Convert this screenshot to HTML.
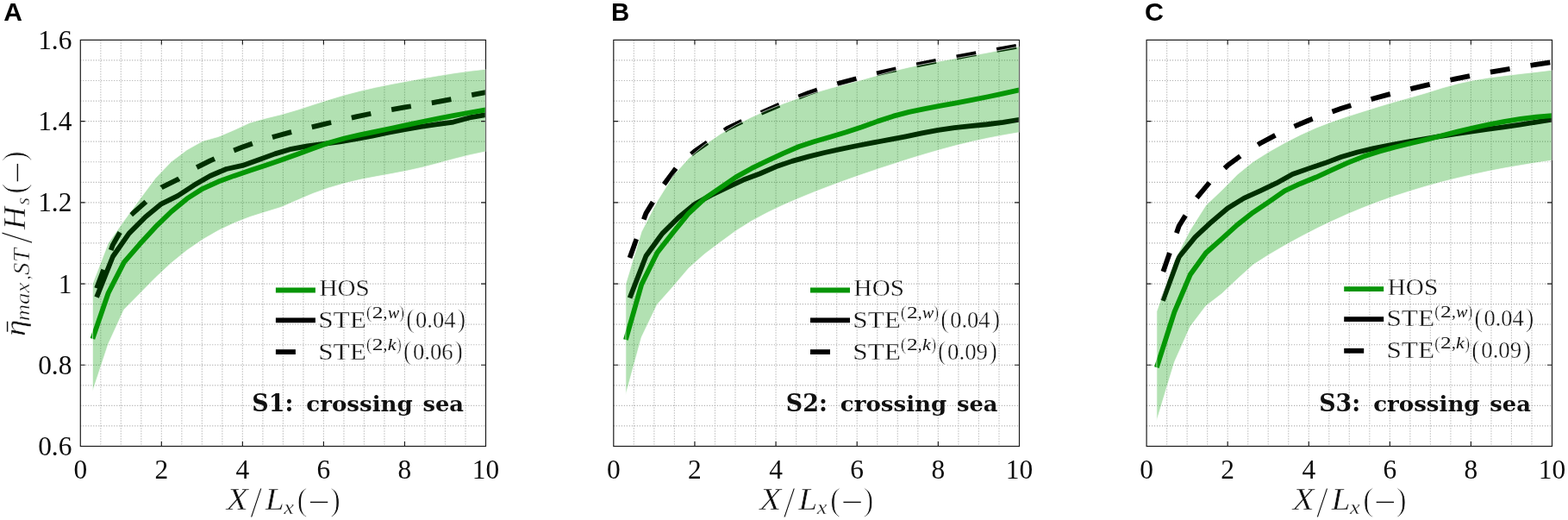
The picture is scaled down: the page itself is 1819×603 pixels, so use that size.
<!DOCTYPE html>
<html lang="en"><head><meta charset="utf-8"><title>Figure</title><style>
html,body{margin:0;padding:0;background:#fff}
body{width:1819px;height:603px;overflow:hidden}
svg{display:block}
.tk{font-family:"Liberation Serif",serif;font-size:31.4px;fill:#0c0c0c}
</style></head>
<body>
<svg width="1819" height="603" viewBox="0 0 1819 603">
<rect width="1819" height="603" fill="#fff"/>
<g>
<path d="M116.81 46.4V517.5M140.32 46.4V517.5M163.83 46.4V517.5M187.34 46.4V517.5M210.85 46.4V517.5M234.36 46.4V517.5M257.87 46.4V517.5M281.38 46.4V517.5M304.89 46.4V517.5M328.4 46.4V517.5M351.91 46.4V517.5M375.42 46.4V517.5M398.93 46.4V517.5M422.44 46.4V517.5M445.95 46.4V517.5M469.46 46.4V517.5M492.97 46.4V517.5M516.48 46.4V517.5M539.99 46.4V517.5M93.3 493.95H563.5M93.3 470.39H563.5M93.3 446.84H563.5M93.3 423.28H563.5M93.3 399.73H563.5M93.3 376.17H563.5M93.3 352.62H563.5M93.3 329.06H563.5M93.3 305.5H563.5M93.3 281.95H563.5M93.3 258.4H563.5M93.3 234.84H563.5M93.3 211.29H563.5M93.3 187.73H563.5M93.3 164.18H563.5M93.3 140.62H563.5M93.3 117.06H563.5M93.3 93.51H563.5M93.3 69.96H563.5" fill="none" stroke="#a6a6a6" stroke-width="1.2" stroke-dasharray="1 2"/>
<clipPath id="clip0"><rect x="93.3" y="46.4" width="470.2" height="471.1"/></clipPath>
<g clip-path="url(#clip0)">
<polyline points="112.11,334.24 130.92,283.83 149.72,251.33 168.53,234.6 187.34,217.32 206.15,208.22 224.96,195.74 243.76,186.32 262.57,177.93 281.38,170.49 300.19,163.94 319,158.19 337.8,153.15 356.61,148.53 375.42,144.06 394.23,139.72 413.04,135.44 431.84,131.43 450.65,127.76 469.46,124.46 488.27,121.4 507.08,118.2 525.88,114.62 544.69,110.52 563.5,107.12" fill="none" stroke="#000" stroke-width="5.8" stroke-dasharray="23 24.3" stroke-dashoffset="0" stroke-linejoin="round"/>
<polyline points="112.11,344.61 130.92,297.5 149.72,270.64 168.53,251.8 187.34,236.35 206.15,227.07 224.96,214.82 243.76,203.98 262.57,195.97 281.38,191.92 300.19,185.28 319,178.4 337.8,172.84 356.61,169.31 375.42,166.81 394.23,164.36 413.04,161.21 431.84,157.53 450.65,153.72 469.46,150.14 488.27,146.93 507.08,144.15 525.88,141.56 544.69,136.43 563.5,133.04" fill="none" stroke="#000" stroke-width="5.8" stroke-linejoin="round"/>
<polyline points="107.41,392.89 125.65,339.71 143.89,304.14 162.14,283.08 180.38,263.2 198.62,245.49 216.87,230.41 235.11,218.82 253.36,210.53 271.6,203.89 289.84,197.81 308.09,191.69 326.33,185.42 344.57,178.92 362.82,172.18 381.06,165.78 399.31,160.5 417.55,156.45 435.79,152.63 454.04,148.72 472.28,144.81 490.52,141 508.77,137.32 527.01,133.79 545.26,130.49 563.5,127.43" fill="none" stroke="#089508" stroke-width="5.8" stroke-linejoin="round"/>
<polygon points="107.41,329.06 125.65,281.67 143.89,255.9 162.14,230.93 180.38,206.43 198.62,187.49 216.87,173.79 235.11,163.56 253.36,158.47 271.6,150.7 289.84,142.27 308.09,137.18 326.33,132.75 344.57,127.43 362.82,121.54 381.06,115.65 399.31,110.19 417.55,105.43 435.79,101.28 454.04,97.61 472.28,94.17 490.52,90.87 508.77,87.72 527.01,84.79 545.26,82.3 563.5,80.22 563.5,175.86 545.26,179.63 527.01,184.2 508.77,189.14 490.52,193.95 472.28,198.05 454.04,201.53 435.79,204.83 417.55,208.36 399.31,212.7 381.06,217.97 362.82,224.48 344.57,232.3 326.33,240.21 308.09,245.86 289.84,251.56 271.6,258.63 253.36,267.3 235.11,277.76 216.87,290.29 198.62,305.03 180.38,322.04 162.14,340.55 143.89,358.97 125.65,398.74 107.41,453.9" fill="#009a00" fill-opacity="0.3"/>
<polygon points="107.41,329.06 125.65,281.67 143.89,255.9 162.14,230.93 180.38,206.43 198.62,187.49 216.87,173.79 235.11,163.56 253.36,158.47 271.6,150.7 289.84,142.27 308.09,137.18 326.33,132.75 344.57,127.43 362.82,121.54 381.06,115.65 399.31,110.19 417.55,105.43 435.79,101.28 454.04,97.61 472.28,94.17 490.52,90.87 508.77,87.72 527.01,84.79 545.26,82.3 563.5,80.22 563.5,175.86 545.26,179.63 527.01,184.2 508.77,189.14 490.52,193.95 472.28,198.05 454.04,201.53 435.79,204.83 417.55,208.36 399.31,212.7 381.06,217.97 362.82,224.48 344.57,232.3 326.33,240.21 308.09,245.86 289.84,251.56 271.6,258.63 253.36,267.3 235.11,277.76 216.87,290.29 198.62,305.03 180.38,322.04 162.14,340.55 143.89,358.97 125.65,398.74 107.41,453.9" fill="none" stroke="#fff" stroke-width="0.8" stroke-opacity="0.85" stroke-linejoin="round"/>
</g>
<path d="M187.34 517.5v-5.4M187.34 46.4v5.4M281.38 517.5v-5.4M281.38 46.4v5.4M375.42 517.5v-5.4M375.42 46.4v5.4M469.46 517.5v-5.4M469.46 46.4v5.4M93.3 423.28h5.4M563.5 423.28h-5.4M93.3 329.06h5.4M563.5 329.06h-5.4M93.3 234.84h5.4M563.5 234.84h-5.4M93.3 140.62h5.4M563.5 140.62h-5.4" fill="none" stroke="#1c1c1c" stroke-width="1.15"/>
<rect x="93.3" y="46.4" width="470.2" height="471.1" fill="none" stroke="#1c1c1c" stroke-width="1.2"/>
<path d="M563.15 80.22V175.86" stroke="#fff" stroke-width="0.7" stroke-opacity="0.75" fill="none"/>
<text class="tk" x="93.3" y="554.5" text-anchor="middle">0</text>
<text class="tk" x="187.34" y="554.5" text-anchor="middle">2</text>
<text class="tk" x="281.38" y="554.5" text-anchor="middle">4</text>
<text class="tk" x="375.42" y="554.5" text-anchor="middle">6</text>
<text class="tk" x="469.46" y="554.5" text-anchor="middle">8</text>
<text class="tk" x="563.5" y="554.5" text-anchor="middle">10</text>
<text class="tk" x="83.4" y="57" text-anchor="end">1.6</text>
<text class="tk" x="83.4" y="151.22" text-anchor="end">1.4</text>
<text class="tk" x="83.4" y="245.44" text-anchor="end">1.2</text>
<text class="tk" x="83.4" y="339.66" text-anchor="end">1</text>
<text class="tk" x="83.4" y="433.88" text-anchor="end">0.8</text>
<text class="tk" x="83.4" y="528.1" text-anchor="end">0.6</text>
<g><text transform="translate(262.73 591.1) scale(1.1687 1)" font-family='"Liberation Serif",serif' font-size="35.11" font-style="italic" stroke="#fff" stroke-width="0.5" vector-effect="non-scaling-stroke" fill="#101010">X</text><text transform="translate(290.2 599.28) scale(0.9630 1)" font-family='"Liberation Serif",serif' font-size="51.64" stroke="#fff" stroke-width="1" vector-effect="non-scaling-stroke" fill="#101010">/</text><text transform="translate(307.7 591.1) scale(1.1337 1)" font-family='"Liberation Serif",serif' font-size="35.11" font-style="italic" stroke="#fff" stroke-width="0.5" vector-effect="non-scaling-stroke" fill="#101010">L</text><text transform="translate(329.13 596.3) scale(1.1379 1)" font-family='"Liberation Serif",serif' font-size="23.04" font-style="italic" stroke="#fff" stroke-width="0.3" vector-effect="non-scaling-stroke" fill="#101010">x</text><text transform="translate(344.45 591.7) scale(0.9575 1)" font-family='"Liberation Serif",serif' font-size="38.13" stroke="#fff" stroke-width="0.9" vector-effect="non-scaling-stroke" fill="#101010">(</text><text transform="translate(357.72 592.17) scale(1.5054 1)" font-family='"Liberation Serif",serif' font-size="29" fill="#101010">−</text><text transform="translate(383.04 591.7) scale(0.9371 1)" font-family='"Liberation Serif",serif' font-size="38.13" stroke="#fff" stroke-width="0.9" vector-effect="non-scaling-stroke" fill="#101010">)</text></g>
<path d="M319.9 336.5h46" stroke="#089508" stroke-width="5.8" fill="none"/>
<path d="M319.9 371.4h46" stroke="#000" stroke-width="5.8" fill="none"/>
<path d="M319.9 408.1h23" stroke="#000" stroke-width="5.8" fill="none"/>
<text transform="translate(370.5 343) scale(1.0330 1)" font-family='"Liberation Serif",serif' font-size="28.24" stroke="#fff" stroke-width="0.35" vector-effect="non-scaling-stroke" fill="#101010">HOS</text>
<g><text transform="translate(369.19 379.7) scale(1.1074 1)" font-family='"Liberation Serif",serif' font-size="28.24" stroke="#fff" stroke-width="0.35" vector-effect="non-scaling-stroke" fill="#101010">STE</text><text transform="translate(424.63 369.36) scale(0.9628 1)" font-family='"Liberation Serif",serif' font-size="21.38" stroke="#fff" stroke-width="0.5" vector-effect="non-scaling-stroke" fill="#101010">(</text><text transform="translate(431.82 368.9) scale(1.3649 1)" font-family='"Liberation Serif",serif' font-size="18.57" fill="#101010">2</text><text transform="translate(444.58 368.9) scale(1.0175 1)" font-family='"Liberation Serif",serif' font-size="19" fill="#101010">,</text><text transform="translate(449.9 368.9) scale(1.1131 1)" font-family='"Liberation Serif",serif' font-size="17.83" font-style="italic" fill="#101010">w</text><text transform="translate(463.23 369.36) scale(0.8175 1)" font-family='"Liberation Serif",serif' font-size="21.38" stroke="#fff" stroke-width="0.5" vector-effect="non-scaling-stroke" fill="#101010">)</text><text transform="translate(470.91 380.4) scale(0.9748 1)" font-family='"Liberation Serif",serif' font-size="31.07" stroke="#fff" stroke-width="0.8" vector-effect="non-scaling-stroke" fill="#101010">(</text><text transform="translate(482.11 379.7) scale(1.0016 1)" font-family='"Liberation Serif",serif' font-size="26.47" stroke="#fff" stroke-width="0.35" vector-effect="non-scaling-stroke" fill="#101010">0.04</text><text transform="translate(530.22 380.4) scale(0.9748 1)" font-family='"Liberation Serif",serif' font-size="31.07" stroke="#fff" stroke-width="0.8" vector-effect="non-scaling-stroke" fill="#101010">)</text></g>
<g><text transform="translate(369.19 416.5) scale(1.1074 1)" font-family='"Liberation Serif",serif' font-size="28.24" stroke="#fff" stroke-width="0.35" vector-effect="non-scaling-stroke" fill="#101010">STE</text><text transform="translate(424.63 406.16) scale(0.9628 1)" font-family='"Liberation Serif",serif' font-size="21.38" stroke="#fff" stroke-width="0.5" vector-effect="non-scaling-stroke" fill="#101010">(</text><text transform="translate(431.82 405.7) scale(1.3649 1)" font-family='"Liberation Serif",serif' font-size="18.57" fill="#101010">2</text><text transform="translate(444.58 405.7) scale(1.0175 1)" font-family='"Liberation Serif",serif' font-size="19" fill="#101010">,</text><text transform="translate(449.8 405.7) scale(1.1510 1)" font-family='"Liberation Serif",serif' font-size="18.99" font-style="italic" fill="#101010">k</text><text transform="translate(460.03 406.16) scale(0.8175 1)" font-family='"Liberation Serif",serif' font-size="21.38" stroke="#fff" stroke-width="0.5" vector-effect="non-scaling-stroke" fill="#101010">)</text><text transform="translate(467.71 417.2) scale(0.9748 1)" font-family='"Liberation Serif",serif' font-size="31.07" stroke="#fff" stroke-width="0.8" vector-effect="non-scaling-stroke" fill="#101010">(</text><text transform="translate(478.9 416.5) scale(1.0106 1)" font-family='"Liberation Serif",serif' font-size="26.47" stroke="#fff" stroke-width="0.35" vector-effect="non-scaling-stroke" fill="#101010">0.06</text><text transform="translate(527.02 417.2) scale(0.9748 1)" font-family='"Liberation Serif",serif' font-size="31.07" stroke="#fff" stroke-width="0.8" vector-effect="non-scaling-stroke" fill="#101010">)</text></g>
<g><text transform="translate(292.35 477.1) scale(0.9711 1)" font-family='"DejaVu Serif","Liberation Serif",serif' font-size="27.67" font-weight="bold" fill="#101010">S1: </text><text transform="translate(355.36 477.1) scale(1.0679 1)" font-family='"DejaVu Serif","Liberation Serif",serif' font-size="24.42" font-weight="bold" fill="#101010">crossing </text><text transform="translate(490.4 477.1) scale(1.0566 1)" font-family='"DejaVu Serif","Liberation Serif",serif' font-size="24.42" font-weight="bold" fill="#101010">sea</text></g>
<text transform="translate(4.25 24.1) scale(1.0012 1)" font-family='"Liberation Sans",sans-serif' font-size="29.96" font-weight="bold" fill="#000">A</text>
</g>
<g>
<path d="M735.33 46.4V517.5M758.87 46.4V517.5M782.4 46.4V517.5M805.94 46.4V517.5M829.47 46.4V517.5M853.01 46.4V517.5M876.54 46.4V517.5M900.08 46.4V517.5M923.62 46.4V517.5M947.15 46.4V517.5M970.68 46.4V517.5M994.22 46.4V517.5M1017.75 46.4V517.5M1041.29 46.4V517.5M1064.83 46.4V517.5M1088.36 46.4V517.5M1111.89 46.4V517.5M1135.43 46.4V517.5M1158.97 46.4V517.5M711.8 493.95H1182.5M711.8 470.39H1182.5M711.8 446.84H1182.5M711.8 423.28H1182.5M711.8 399.73H1182.5M711.8 376.17H1182.5M711.8 352.62H1182.5M711.8 329.06H1182.5M711.8 305.5H1182.5M711.8 281.95H1182.5M711.8 258.4H1182.5M711.8 234.84H1182.5M711.8 211.29H1182.5M711.8 187.73H1182.5M711.8 164.18H1182.5M711.8 140.62H1182.5M711.8 117.06H1182.5M711.8 93.51H1182.5M711.8 69.96H1182.5" fill="none" stroke="#a6a6a6" stroke-width="1.2" stroke-dasharray="1 2"/>
<clipPath id="clip1"><rect x="711.8" y="46.4" width="470.7" height="471.1"/></clipPath>
<g clip-path="url(#clip1)">
<polyline points="730.53,298.96 749.46,247.28 768.28,216.37 787.11,191.45 805.94,175.39 824.77,162.38 843.6,149.19 862.42,139.96 881.25,131.67 900.08,123.47 918.91,115.37 937.74,108.07 956.56,101.71 975.39,96.1 994.22,91.01 1013.05,86.35 1031.88,82.02 1050.7,77.92 1069.53,74.05 1088.36,70.33 1107.19,66.75 1126.02,63.27 1144.84,59.87 1163.67,56.58 1182.5,53.28" fill="none" stroke="#000" stroke-width="5.8" stroke-dasharray="23 24.3" stroke-dashoffset="0" stroke-linejoin="round"/>
<polyline points="730.63,345.55 749.46,296.79 768.28,270.88 787.11,252.27 805.94,236.72 824.77,226.41 843.6,217.46 862.42,208.51 881.25,201.49 900.08,193.34 918.91,186.88 937.74,181.65 956.56,177.04 975.39,172.89 994.22,169.03 1013.05,165.45 1031.88,161.96 1050.7,158.33 1069.53,154.42 1088.36,150.84 1107.19,148.16 1126.02,146.13 1144.84,144.25 1163.67,141.94 1182.5,138.74" fill="none" stroke="#000" stroke-width="5.8" stroke-linejoin="round"/>
<polyline points="725.92,394.02 744.18,330.05 762.45,292.93 780.71,269.8 798.97,247.28 817.24,230.32 835.5,217.88 853.76,205.4 872.03,195.17 890.29,186.46 908.55,177.84 926.82,170.02 945.08,163.99 963.34,158.66 981.61,153.25 999.87,147.17 1018.13,140.62 1036.39,134.64 1054.66,129.88 1072.92,126.06 1091.18,122.72 1109.45,119.47 1127.71,115.93 1145.97,112.26 1164.24,108.4 1182.5,104.39" fill="none" stroke="#089508" stroke-width="5.8" stroke-linejoin="round"/>
<polygon points="725.92,329.06 744.18,268.66 762.45,233.29 780.71,203.89 798.97,183.4 817.24,168.04 835.5,155.51 853.76,144.86 872.03,135.67 890.29,127.52 908.55,120.22 926.82,113.58 945.08,107.6 963.34,102.23 981.61,97.47 999.87,92.61 1018.13,87.34 1036.39,82.3 1054.66,77.92 1072.92,74.19 1091.18,70.76 1109.45,67.55 1127.71,64.3 1145.97,61 1164.24,57.52 1182.5,53.8 1182.5,153.62 1164.24,156.68 1145.97,160.17 1127.71,164.18 1109.45,168.6 1091.18,173.46 1072.92,178.73 1054.66,184.29 1036.39,190.13 1018.13,196.12 999.87,202.33 981.61,208.74 963.34,215.43 945.08,222.45 926.82,229.89 908.55,237.81 890.29,246.48 872.03,256.23 853.76,267.63 835.5,281.1 817.24,294.72 798.97,311.02 780.71,332.45 762.45,353.04 744.18,391.06 725.92,457.67" fill="#009a00" fill-opacity="0.3"/>
<polygon points="725.92,329.06 744.18,268.66 762.45,233.29 780.71,203.89 798.97,183.4 817.24,168.04 835.5,155.51 853.76,144.86 872.03,135.67 890.29,127.52 908.55,120.22 926.82,113.58 945.08,107.6 963.34,102.23 981.61,97.47 999.87,92.61 1018.13,87.34 1036.39,82.3 1054.66,77.92 1072.92,74.19 1091.18,70.76 1109.45,67.55 1127.71,64.3 1145.97,61 1164.24,57.52 1182.5,53.8 1182.5,153.62 1164.24,156.68 1145.97,160.17 1127.71,164.18 1109.45,168.6 1091.18,173.46 1072.92,178.73 1054.66,184.29 1036.39,190.13 1018.13,196.12 999.87,202.33 981.61,208.74 963.34,215.43 945.08,222.45 926.82,229.89 908.55,237.81 890.29,246.48 872.03,256.23 853.76,267.63 835.5,281.1 817.24,294.72 798.97,311.02 780.71,332.45 762.45,353.04 744.18,391.06 725.92,457.67" fill="none" stroke="#fff" stroke-width="0.8" stroke-opacity="0.85" stroke-linejoin="round"/>
</g>
<path d="M805.94 517.5v-5.4M805.94 46.4v5.4M900.08 517.5v-5.4M900.08 46.4v5.4M994.22 517.5v-5.4M994.22 46.4v5.4M1088.36 517.5v-5.4M1088.36 46.4v5.4M711.8 423.28h5.4M1182.5 423.28h-5.4M711.8 329.06h5.4M1182.5 329.06h-5.4M711.8 234.84h5.4M1182.5 234.84h-5.4M711.8 140.62h5.4M1182.5 140.62h-5.4" fill="none" stroke="#1c1c1c" stroke-width="1.15"/>
<rect x="711.8" y="46.4" width="470.7" height="471.1" fill="none" stroke="#1c1c1c" stroke-width="1.2"/>
<path d="M1182.15 53.8V153.62" stroke="#fff" stroke-width="0.7" stroke-opacity="0.75" fill="none"/>
<text class="tk" x="711.8" y="554.5" text-anchor="middle">0</text>
<text class="tk" x="805.94" y="554.5" text-anchor="middle">2</text>
<text class="tk" x="900.08" y="554.5" text-anchor="middle">4</text>
<text class="tk" x="994.22" y="554.5" text-anchor="middle">6</text>
<text class="tk" x="1088.36" y="554.5" text-anchor="middle">8</text>
<text class="tk" x="1182.5" y="554.5" text-anchor="middle">10</text>
<g><text transform="translate(881.23 591.1) scale(1.1687 1)" font-family='"Liberation Serif",serif' font-size="35.11" font-style="italic" stroke="#fff" stroke-width="0.5" vector-effect="non-scaling-stroke" fill="#101010">X</text><text transform="translate(908.7 599.28) scale(0.9630 1)" font-family='"Liberation Serif",serif' font-size="51.64" stroke="#fff" stroke-width="1" vector-effect="non-scaling-stroke" fill="#101010">/</text><text transform="translate(926.2 591.1) scale(1.1337 1)" font-family='"Liberation Serif",serif' font-size="35.11" font-style="italic" stroke="#fff" stroke-width="0.5" vector-effect="non-scaling-stroke" fill="#101010">L</text><text transform="translate(947.63 596.3) scale(1.1379 1)" font-family='"Liberation Serif",serif' font-size="23.04" font-style="italic" stroke="#fff" stroke-width="0.3" vector-effect="non-scaling-stroke" fill="#101010">x</text><text transform="translate(962.95 591.7) scale(0.9575 1)" font-family='"Liberation Serif",serif' font-size="38.13" stroke="#fff" stroke-width="0.9" vector-effect="non-scaling-stroke" fill="#101010">(</text><text transform="translate(976.22 592.17) scale(1.5054 1)" font-family='"Liberation Serif",serif' font-size="29" fill="#101010">−</text><text transform="translate(1001.54 591.7) scale(0.9371 1)" font-family='"Liberation Serif",serif' font-size="38.13" stroke="#fff" stroke-width="0.9" vector-effect="non-scaling-stroke" fill="#101010">)</text></g>
<path d="M940 336.5h46" stroke="#089508" stroke-width="5.8" fill="none"/>
<path d="M940 371.4h46" stroke="#000" stroke-width="5.8" fill="none"/>
<path d="M940 408.1h23" stroke="#000" stroke-width="5.8" fill="none"/>
<text transform="translate(990.6 343) scale(1.0330 1)" font-family='"Liberation Serif",serif' font-size="28.24" stroke="#fff" stroke-width="0.35" vector-effect="non-scaling-stroke" fill="#101010">HOS</text>
<g><text transform="translate(989.29 379.7) scale(1.1074 1)" font-family='"Liberation Serif",serif' font-size="28.24" stroke="#fff" stroke-width="0.35" vector-effect="non-scaling-stroke" fill="#101010">STE</text><text transform="translate(1044.73 369.36) scale(0.9628 1)" font-family='"Liberation Serif",serif' font-size="21.38" stroke="#fff" stroke-width="0.5" vector-effect="non-scaling-stroke" fill="#101010">(</text><text transform="translate(1051.92 368.9) scale(1.3649 1)" font-family='"Liberation Serif",serif' font-size="18.57" fill="#101010">2</text><text transform="translate(1064.68 368.9) scale(1.0175 1)" font-family='"Liberation Serif",serif' font-size="19" fill="#101010">,</text><text transform="translate(1070 368.9) scale(1.1131 1)" font-family='"Liberation Serif",serif' font-size="17.83" font-style="italic" fill="#101010">w</text><text transform="translate(1083.33 369.36) scale(0.8175 1)" font-family='"Liberation Serif",serif' font-size="21.38" stroke="#fff" stroke-width="0.5" vector-effect="non-scaling-stroke" fill="#101010">)</text><text transform="translate(1091.01 380.4) scale(0.9748 1)" font-family='"Liberation Serif",serif' font-size="31.07" stroke="#fff" stroke-width="0.8" vector-effect="non-scaling-stroke" fill="#101010">(</text><text transform="translate(1102.21 379.7) scale(1.0016 1)" font-family='"Liberation Serif",serif' font-size="26.47" stroke="#fff" stroke-width="0.35" vector-effect="non-scaling-stroke" fill="#101010">0.04</text><text transform="translate(1150.32 380.4) scale(0.9748 1)" font-family='"Liberation Serif",serif' font-size="31.07" stroke="#fff" stroke-width="0.8" vector-effect="non-scaling-stroke" fill="#101010">)</text></g>
<g><text transform="translate(989.29 416.5) scale(1.1074 1)" font-family='"Liberation Serif",serif' font-size="28.24" stroke="#fff" stroke-width="0.35" vector-effect="non-scaling-stroke" fill="#101010">STE</text><text transform="translate(1044.73 406.16) scale(0.9628 1)" font-family='"Liberation Serif",serif' font-size="21.38" stroke="#fff" stroke-width="0.5" vector-effect="non-scaling-stroke" fill="#101010">(</text><text transform="translate(1051.92 405.7) scale(1.3649 1)" font-family='"Liberation Serif",serif' font-size="18.57" fill="#101010">2</text><text transform="translate(1064.68 405.7) scale(1.0175 1)" font-family='"Liberation Serif",serif' font-size="19" fill="#101010">,</text><text transform="translate(1069.9 405.7) scale(1.1510 1)" font-family='"Liberation Serif",serif' font-size="18.99" font-style="italic" fill="#101010">k</text><text transform="translate(1080.13 406.16) scale(0.8175 1)" font-family='"Liberation Serif",serif' font-size="21.38" stroke="#fff" stroke-width="0.5" vector-effect="non-scaling-stroke" fill="#101010">)</text><text transform="translate(1087.81 417.2) scale(0.9748 1)" font-family='"Liberation Serif",serif' font-size="31.07" stroke="#fff" stroke-width="0.8" vector-effect="non-scaling-stroke" fill="#101010">(</text><text transform="translate(1098.99 416.5) scale(1.0166 1)" font-family='"Liberation Serif",serif' font-size="26.47" stroke="#fff" stroke-width="0.35" vector-effect="non-scaling-stroke" fill="#101010">0.09</text><text transform="translate(1147.12 417.2) scale(0.9748 1)" font-family='"Liberation Serif",serif' font-size="31.07" stroke="#fff" stroke-width="0.8" vector-effect="non-scaling-stroke" fill="#101010">)</text></g>
<g><text transform="translate(911.85 477.1) scale(0.9711 1)" font-family='"DejaVu Serif","Liberation Serif",serif' font-size="27.67" font-weight="bold" fill="#101010">S2: </text><text transform="translate(974.86 477.1) scale(1.0679 1)" font-family='"DejaVu Serif","Liberation Serif",serif' font-size="24.42" font-weight="bold" fill="#101010">crossing </text><text transform="translate(1109.9 477.1) scale(1.0566 1)" font-family='"DejaVu Serif","Liberation Serif",serif' font-size="24.42" font-weight="bold" fill="#101010">sea</text></g>
<text transform="translate(708.92 24.2) scale(0.9746 1)" font-family='"Liberation Sans",sans-serif' font-size="30.11" font-weight="bold" fill="#000">B</text>
</g>
<g>
<path d="M1353.62 46.4V517.5M1377.14 46.4V517.5M1400.66 46.4V517.5M1424.18 46.4V517.5M1447.7 46.4V517.5M1471.22 46.4V517.5M1494.74 46.4V517.5M1518.26 46.4V517.5M1541.78 46.4V517.5M1565.3 46.4V517.5M1588.82 46.4V517.5M1612.34 46.4V517.5M1635.86 46.4V517.5M1659.38 46.4V517.5M1682.9 46.4V517.5M1706.42 46.4V517.5M1729.94 46.4V517.5M1753.46 46.4V517.5M1776.98 46.4V517.5M1330.1 493.95H1800.5M1330.1 470.39H1800.5M1330.1 446.84H1800.5M1330.1 423.28H1800.5M1330.1 399.73H1800.5M1330.1 376.17H1800.5M1330.1 352.62H1800.5M1330.1 329.06H1800.5M1330.1 305.5H1800.5M1330.1 281.95H1800.5M1330.1 258.4H1800.5M1330.1 234.84H1800.5M1330.1 211.29H1800.5M1330.1 187.73H1800.5M1330.1 164.18H1800.5M1330.1 140.62H1800.5M1330.1 117.06H1800.5M1330.1 93.51H1800.5M1330.1 69.96H1800.5" fill="none" stroke="#a6a6a6" stroke-width="1.2" stroke-dasharray="1 2"/>
<clipPath id="clip2"><rect x="1330.1" y="46.4" width="470.4" height="471.1"/></clipPath>
<g clip-path="url(#clip2)">
<polyline points="1349.39,314.97 1367.73,261.98 1386.55,231.64 1405.36,208.98 1424.18,191.78 1443,177.88 1461.81,166.29 1480.63,156.26 1499.44,147.4 1518.26,139.49 1537.08,132.33 1555.89,125.83 1574.71,119.8 1593.52,114.24 1612.34,109.1 1631.16,104.3 1649.97,99.82 1668.79,95.63 1687.6,91.67 1706.42,87.9 1725.24,84.37 1744.05,81.03 1762.87,77.82 1781.68,74.81 1800.5,71.93" fill="none" stroke="#000" stroke-width="5.8" stroke-dasharray="23 24.3" stroke-dashoffset="0" stroke-linejoin="round"/>
<polyline points="1348.92,348.85 1367.73,297.97 1386.55,274.88 1405.36,257.45 1424.18,241.44 1443,229.89 1461.81,221.41 1480.63,212.46 1499.44,202.05 1518.26,195.36 1537.08,189.1 1555.89,182.08 1574.71,176.52 1593.52,172.18 1612.34,168.46 1631.16,164.88 1649.97,161.49 1668.79,158.29 1687.6,155.32 1706.42,152.63 1725.24,149.99 1744.05,147.36 1762.87,144.58 1781.68,141.66 1800.5,138.55" fill="none" stroke="#000" stroke-width="5.8" stroke-linejoin="round"/>
<polyline points="1341.86,426.11 1362.46,361.61 1380.72,318.51 1398.97,293.26 1417.22,277.05 1435.47,260.61 1453.72,246.29 1471.97,234.09 1490.22,221.37 1508.48,212.98 1526.73,205.54 1544.98,197.15 1563.23,188.91 1581.48,181.61 1599.73,175.67 1617.98,170.72 1636.24,166.25 1654.49,161.82 1672.74,157.2 1690.99,152.59 1709.24,148.25 1727.49,144.25 1745.75,140.81 1764,137.93 1782.25,135.72 1800.5,134.17" fill="none" stroke="#089508" stroke-width="5.8" stroke-linejoin="round"/>
<polygon points="1341.86,361.09 1362.46,301.97 1380.72,266.73 1398.97,238.04 1417.22,220.75 1435.47,202.33 1453.72,187.49 1471.97,176.09 1490.22,165.78 1508.48,156.45 1526.73,148.2 1544.98,141.14 1563.23,134.97 1581.48,129.22 1599.73,123.52 1617.98,118.1 1636.24,113.01 1654.49,107.78 1672.74,102.04 1690.99,96.95 1709.24,93.09 1727.49,90.12 1745.75,87.67 1764,85.5 1782.25,83.43 1800.5,81.26 1800.5,186.08 1782.25,188.72 1764,191.64 1745.75,194.8 1727.49,198.33 1709.24,202.19 1690.99,206.39 1672.74,210.96 1654.49,215.95 1636.24,221.41 1617.98,227.35 1599.73,233.8 1581.48,240.78 1563.23,248.36 1544.98,256.56 1526.73,265.32 1508.48,274.74 1490.22,284.73 1471.97,295.38 1453.72,307.11 1435.47,323.5 1417.22,340.74 1398.97,354.69 1380.72,378.76 1362.46,419.75 1341.86,487.82" fill="#009a00" fill-opacity="0.3"/>
<polygon points="1341.86,361.09 1362.46,301.97 1380.72,266.73 1398.97,238.04 1417.22,220.75 1435.47,202.33 1453.72,187.49 1471.97,176.09 1490.22,165.78 1508.48,156.45 1526.73,148.2 1544.98,141.14 1563.23,134.97 1581.48,129.22 1599.73,123.52 1617.98,118.1 1636.24,113.01 1654.49,107.78 1672.74,102.04 1690.99,96.95 1709.24,93.09 1727.49,90.12 1745.75,87.67 1764,85.5 1782.25,83.43 1800.5,81.26 1800.5,186.08 1782.25,188.72 1764,191.64 1745.75,194.8 1727.49,198.33 1709.24,202.19 1690.99,206.39 1672.74,210.96 1654.49,215.95 1636.24,221.41 1617.98,227.35 1599.73,233.8 1581.48,240.78 1563.23,248.36 1544.98,256.56 1526.73,265.32 1508.48,274.74 1490.22,284.73 1471.97,295.38 1453.72,307.11 1435.47,323.5 1417.22,340.74 1398.97,354.69 1380.72,378.76 1362.46,419.75 1341.86,487.82" fill="none" stroke="#fff" stroke-width="0.8" stroke-opacity="0.85" stroke-linejoin="round"/>
</g>
<path d="M1424.18 517.5v-5.4M1424.18 46.4v5.4M1518.26 517.5v-5.4M1518.26 46.4v5.4M1612.34 517.5v-5.4M1612.34 46.4v5.4M1706.42 517.5v-5.4M1706.42 46.4v5.4M1330.1 423.28h5.4M1800.5 423.28h-5.4M1330.1 329.06h5.4M1800.5 329.06h-5.4M1330.1 234.84h5.4M1800.5 234.84h-5.4M1330.1 140.62h5.4M1800.5 140.62h-5.4" fill="none" stroke="#1c1c1c" stroke-width="1.15"/>
<rect x="1330.1" y="46.4" width="470.4" height="471.1" fill="none" stroke="#1c1c1c" stroke-width="1.2"/>
<path d="M1800.15 81.26V186.08" stroke="#fff" stroke-width="0.7" stroke-opacity="0.75" fill="none"/>
<text class="tk" x="1330.1" y="554.5" text-anchor="middle">0</text>
<text class="tk" x="1424.18" y="554.5" text-anchor="middle">2</text>
<text class="tk" x="1518.26" y="554.5" text-anchor="middle">4</text>
<text class="tk" x="1612.34" y="554.5" text-anchor="middle">6</text>
<text class="tk" x="1706.42" y="554.5" text-anchor="middle">8</text>
<text class="tk" x="1800.5" y="554.5" text-anchor="middle">10</text>
<g><text transform="translate(1499.53 591.1) scale(1.1687 1)" font-family='"Liberation Serif",serif' font-size="35.11" font-style="italic" stroke="#fff" stroke-width="0.5" vector-effect="non-scaling-stroke" fill="#101010">X</text><text transform="translate(1527 599.28) scale(0.9630 1)" font-family='"Liberation Serif",serif' font-size="51.64" stroke="#fff" stroke-width="1" vector-effect="non-scaling-stroke" fill="#101010">/</text><text transform="translate(1544.5 591.1) scale(1.1337 1)" font-family='"Liberation Serif",serif' font-size="35.11" font-style="italic" stroke="#fff" stroke-width="0.5" vector-effect="non-scaling-stroke" fill="#101010">L</text><text transform="translate(1565.93 596.3) scale(1.1379 1)" font-family='"Liberation Serif",serif' font-size="23.04" font-style="italic" stroke="#fff" stroke-width="0.3" vector-effect="non-scaling-stroke" fill="#101010">x</text><text transform="translate(1581.25 591.7) scale(0.9575 1)" font-family='"Liberation Serif",serif' font-size="38.13" stroke="#fff" stroke-width="0.9" vector-effect="non-scaling-stroke" fill="#101010">(</text><text transform="translate(1594.52 592.17) scale(1.5054 1)" font-family='"Liberation Serif",serif' font-size="29" fill="#101010">−</text><text transform="translate(1619.84 591.7) scale(0.9371 1)" font-family='"Liberation Serif",serif' font-size="38.13" stroke="#fff" stroke-width="0.9" vector-effect="non-scaling-stroke" fill="#101010">)</text></g>
<path d="M1559.2 335.2h46" stroke="#089508" stroke-width="5.8" fill="none"/>
<path d="M1559.2 370.1h46" stroke="#000" stroke-width="5.8" fill="none"/>
<path d="M1559.2 406.8h23" stroke="#000" stroke-width="5.8" fill="none"/>
<text transform="translate(1609.8 341.7) scale(1.0330 1)" font-family='"Liberation Serif",serif' font-size="28.24" stroke="#fff" stroke-width="0.35" vector-effect="non-scaling-stroke" fill="#101010">HOS</text>
<g><text transform="translate(1608.49 378.4) scale(1.1074 1)" font-family='"Liberation Serif",serif' font-size="28.24" stroke="#fff" stroke-width="0.35" vector-effect="non-scaling-stroke" fill="#101010">STE</text><text transform="translate(1663.93 368.06) scale(0.9628 1)" font-family='"Liberation Serif",serif' font-size="21.38" stroke="#fff" stroke-width="0.5" vector-effect="non-scaling-stroke" fill="#101010">(</text><text transform="translate(1671.12 367.6) scale(1.3649 1)" font-family='"Liberation Serif",serif' font-size="18.57" fill="#101010">2</text><text transform="translate(1683.88 367.6) scale(1.0175 1)" font-family='"Liberation Serif",serif' font-size="19" fill="#101010">,</text><text transform="translate(1689.2 367.6) scale(1.1131 1)" font-family='"Liberation Serif",serif' font-size="17.83" font-style="italic" fill="#101010">w</text><text transform="translate(1702.53 368.06) scale(0.8175 1)" font-family='"Liberation Serif",serif' font-size="21.38" stroke="#fff" stroke-width="0.5" vector-effect="non-scaling-stroke" fill="#101010">)</text><text transform="translate(1710.21 379.1) scale(0.9748 1)" font-family='"Liberation Serif",serif' font-size="31.07" stroke="#fff" stroke-width="0.8" vector-effect="non-scaling-stroke" fill="#101010">(</text><text transform="translate(1721.41 378.4) scale(1.0016 1)" font-family='"Liberation Serif",serif' font-size="26.47" stroke="#fff" stroke-width="0.35" vector-effect="non-scaling-stroke" fill="#101010">0.04</text><text transform="translate(1769.52 379.1) scale(0.9748 1)" font-family='"Liberation Serif",serif' font-size="31.07" stroke="#fff" stroke-width="0.8" vector-effect="non-scaling-stroke" fill="#101010">)</text></g>
<g><text transform="translate(1608.49 415.2) scale(1.1074 1)" font-family='"Liberation Serif",serif' font-size="28.24" stroke="#fff" stroke-width="0.35" vector-effect="non-scaling-stroke" fill="#101010">STE</text><text transform="translate(1663.93 404.86) scale(0.9628 1)" font-family='"Liberation Serif",serif' font-size="21.38" stroke="#fff" stroke-width="0.5" vector-effect="non-scaling-stroke" fill="#101010">(</text><text transform="translate(1671.12 404.4) scale(1.3649 1)" font-family='"Liberation Serif",serif' font-size="18.57" fill="#101010">2</text><text transform="translate(1683.88 404.4) scale(1.0175 1)" font-family='"Liberation Serif",serif' font-size="19" fill="#101010">,</text><text transform="translate(1689.1 404.4) scale(1.1510 1)" font-family='"Liberation Serif",serif' font-size="18.99" font-style="italic" fill="#101010">k</text><text transform="translate(1699.33 404.86) scale(0.8175 1)" font-family='"Liberation Serif",serif' font-size="21.38" stroke="#fff" stroke-width="0.5" vector-effect="non-scaling-stroke" fill="#101010">)</text><text transform="translate(1707.01 415.9) scale(0.9748 1)" font-family='"Liberation Serif",serif' font-size="31.07" stroke="#fff" stroke-width="0.8" vector-effect="non-scaling-stroke" fill="#101010">(</text><text transform="translate(1718.19 415.2) scale(1.0166 1)" font-family='"Liberation Serif",serif' font-size="26.47" stroke="#fff" stroke-width="0.35" vector-effect="non-scaling-stroke" fill="#101010">0.09</text><text transform="translate(1766.32 415.9) scale(0.9748 1)" font-family='"Liberation Serif",serif' font-size="31.07" stroke="#fff" stroke-width="0.8" vector-effect="non-scaling-stroke" fill="#101010">)</text></g>
<g><text transform="translate(1530.15 477.1) scale(0.9711 1)" font-family='"DejaVu Serif","Liberation Serif",serif' font-size="27.67" font-weight="bold" fill="#101010">S3: </text><text transform="translate(1593.16 477.1) scale(1.0679 1)" font-family='"DejaVu Serif","Liberation Serif",serif' font-size="24.42" font-weight="bold" fill="#101010">crossing </text><text transform="translate(1728.2 477.1) scale(1.0566 1)" font-family='"DejaVu Serif","Liberation Serif",serif' font-size="24.42" font-weight="bold" fill="#101010">sea</text></g>
<text transform="translate(1327.88 24.3) scale(0.9998 1)" font-family='"Liberation Sans",sans-serif' font-size="30.39" font-weight="bold" fill="#000">C</text>
</g>
<g><text transform="matrix(0 -1 1 0 0 0) translate(-390.07 28.9) scale(1.1514 1)" font-family='"Liberation Serif",serif' font-size="33.91" font-style="italic" stroke="#fff" stroke-width="0.45" vector-effect="non-scaling-stroke" fill="#101010">η</text><text transform="matrix(0 -1 1 0 0 0) translate(-384.43 31.79) scale(0.7453 1)" font-family='"Liberation Serif",serif' font-size="31.11" fill="#101010">¯</text><text transform="matrix(0 -1 1 0 0 0) translate(-372.24 34.3) scale(1.1297 1)" font-family='"Liberation Serif",serif' font-size="23.7" font-style="italic" stroke="#fff" stroke-width="0.45" vector-effect="non-scaling-stroke" fill="#101010">max</text><text transform="matrix(0 -1 1 0 0 0) translate(-324.47 34.3) scale(0.8602 1)" font-family='"Liberation Serif",serif' font-size="24" font-style="italic" stroke="#fff" stroke-width="0.45" vector-effect="non-scaling-stroke" fill="#101010">,</text><text transform="matrix(0 -1 1 0 0 0) translate(-318.66 34.3) scale(1.0732 1)" font-family='"Liberation Serif",serif' font-size="26.56" font-style="italic" stroke="#fff" stroke-width="0.45" vector-effect="non-scaling-stroke" fill="#101010">S</text><text transform="matrix(0 -1 1 0 0 0) translate(-304.28 34.3) scale(1.0882 1)" font-family='"Liberation Serif",serif' font-size="26.56" font-style="italic" stroke="#fff" stroke-width="0.45" vector-effect="non-scaling-stroke" fill="#101010">T</text><text transform="matrix(0 -1 1 0 0 0) translate(-282.6 36.78) scale(0.9532 1)" font-family='"Liberation Serif",serif' font-size="51.79" stroke="#fff" stroke-width="1" vector-effect="non-scaling-stroke" fill="#101010">/</text><text transform="matrix(0 -1 1 0 0 0) translate(-265.93 28.9) scale(1.0268 1)" font-family='"Liberation Serif",serif' font-size="35.57" font-style="italic" stroke="#fff" stroke-width="0.45" vector-effect="non-scaling-stroke" fill="#101010">H</text><text transform="matrix(0 -1 1 0 0 0) translate(-237.68 34.3) scale(0.9594 1)" font-family='"Liberation Serif",serif' font-size="23.7" font-style="italic" stroke="#fff" stroke-width="0.45" vector-effect="non-scaling-stroke" fill="#101010">s</text><text transform="matrix(0 -1 1 0 0 0) translate(-224.63 29.4) scale(0.9364 1)" font-family='"Liberation Serif",serif' font-size="38.57" stroke="#fff" stroke-width="0.9" vector-effect="non-scaling-stroke" fill="#101010">(</text><text transform="matrix(0 -1 1 0 0 0) translate(-212.49 29.57) scale(1.5128 1)" font-family='"Liberation Serif",serif' font-size="29" fill="#101010">−</text><text transform="matrix(0 -1 1 0 0 0) translate(-187.27 29.4) scale(0.9364 1)" font-family='"Liberation Serif",serif' font-size="38.57" stroke="#fff" stroke-width="0.9" vector-effect="non-scaling-stroke" fill="#101010">)</text></g>
</svg>
</body></html>
